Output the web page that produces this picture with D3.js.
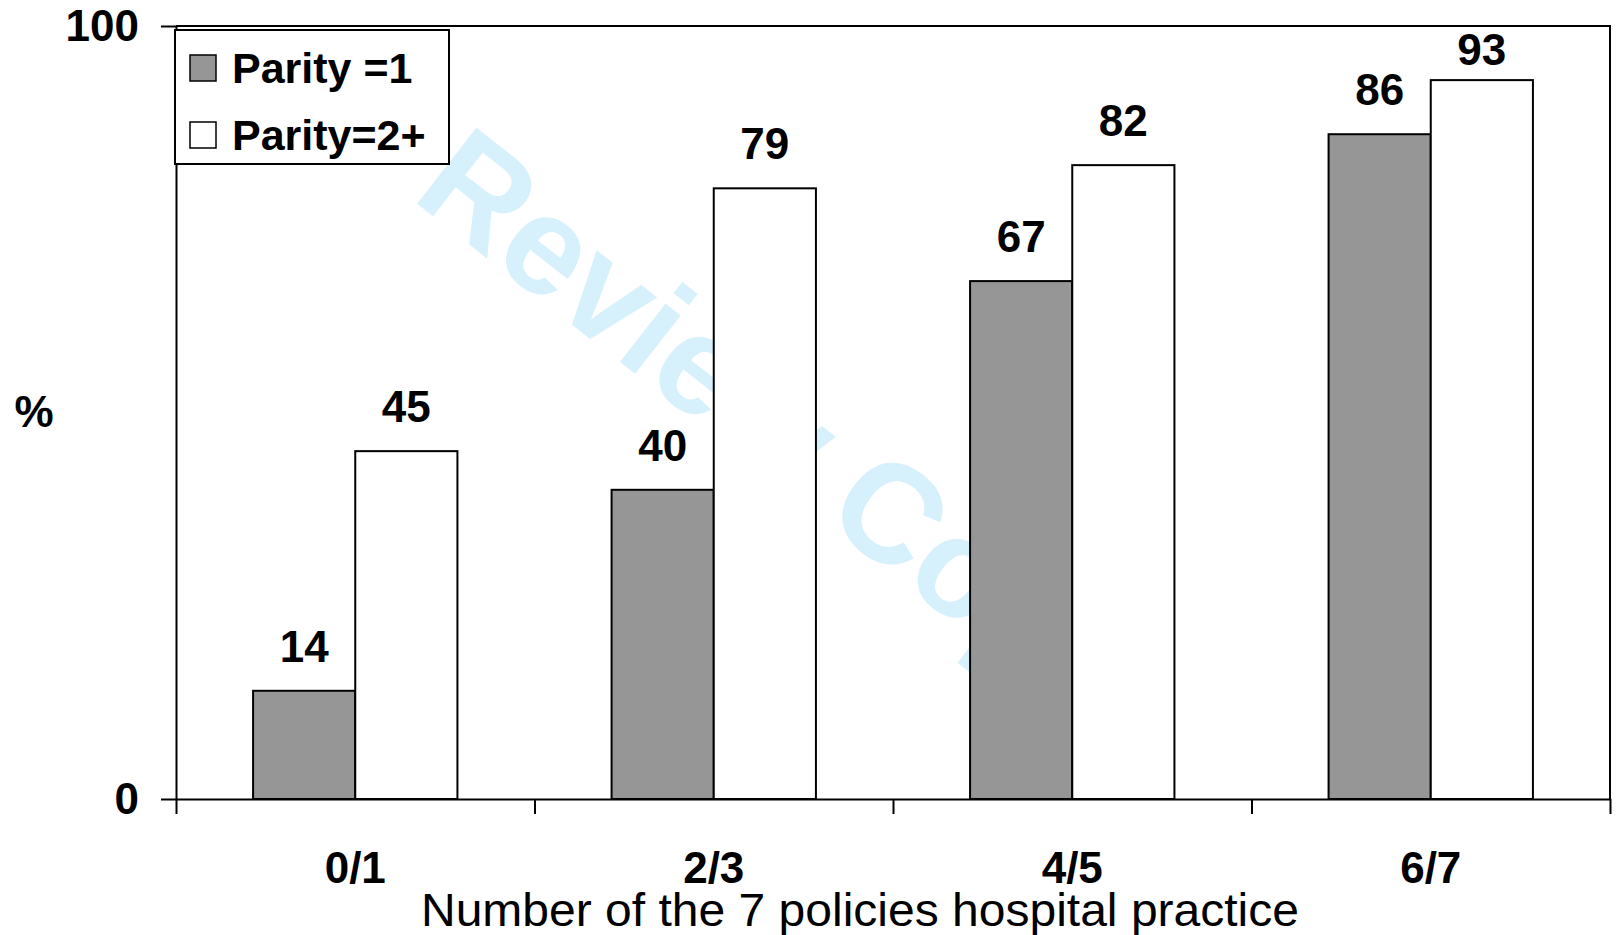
<!DOCTYPE html>
<html>
<head>
<meta charset="utf-8">
<script src="https://cdn.jsdelivr.net/npm/d3@7/dist/d3.min.js"></script>
<style>
  body { margin: 0; background: #fff; }
  svg text { font-family: "Liberation Sans", Arial, sans-serif; fill: #000; }
  .tickText { font-size: 44px; font-weight: bold; }
</style>
</head>
<body>
<div id="chart"></div>
<script>
// data
const categories = ["0/1", "2/3", "4/5", "6/7"];
const seriesNames = ["Parity =1", "Parity=2+"];
const parity1 = [14, 40, 67, 86];
const parity2 = [45, 79, 82, 93];
const yTicks = [0, 100];

const W = 1616, H = 935;
const margin = {top: 26, right: 6, bottom: 136, left: 176},
    width = W - margin.left - margin.right,
    height = H - margin.top - margin.bottom;

const svg = d3.select("#chart")
    .append("svg")
    .attr("width", W)
    .attr("height", H)
    .style("background", "#fff");

// watermark first, so the bars cover it
svg.append("text")
    .attr("transform", "translate(783,428) rotate(38)")
    .attr("text-anchor", "middle")
    .attr("dominant-baseline", "central")
    .style("font-size", "140px")
    .style("font-weight", "bold")
    .style("fill", "#d6f0fc")
    .text("Review Copy");

const g = svg.append("g")
    .attr("transform", `translate(${margin.left},${margin.top})`);

const x = d3.scaleBand()
    .domain(categories)
    .range([0, width]);

const sub = d3.scaleBand()
    .domain(seriesNames)
    .range([x.bandwidth() * 0.215, x.bandwidth() * 0.785]);

const y = d3.scaleLinear()
    .domain([0, 100])
    .range([height, 0]);

// frame: top and right border
g.append("path")
    .attr("d", `M0,0H${width}V${height}`)
    .attr("fill", "none")
    .attr("stroke", "#000")
    .attr("stroke-width", 2);

const rows = categories.map((c, i) => ({cat: c, vals: [parity1[i], parity2[i]]}));
const fills = ["#969696", "#ffffff"];

const groups = g.selectAll(".grp")
    .data(rows)
    .join("g")
    .attr("class", "grp")
    .attr("transform", d => `translate(${x(d.cat)},0)`);

groups.selectAll("rect")
    .data(d => d.vals.map((v, j) => ({name: seriesNames[j], v: v, j: j})))
    .join("rect")
    .attr("x", d => sub(d.name))
    .attr("y", d => y(d.v))
    .attr("width", sub.bandwidth())
    .attr("height", d => height - y(d.v))
    .attr("fill", d => fills[d.j])
    .attr("stroke", "#000")
    .attr("stroke-width", 2);

groups.selectAll(".val")
    .data(d => d.vals.map((v, j) => ({name: seriesNames[j], v: v})))
    .join("text")
    .attr("class", "val tickText")
    .attr("text-anchor", "middle")
    .attr("x", d => sub(d.name) + sub.bandwidth() / 2)
    .attr("y", d => Math.max(y(d.v) - 29, 39))
    .text(d => d.v);

// y axis
const yAxis = g.append("g")
    .call(d3.axisLeft(y).tickValues(yTicks).tickSize(15).tickSizeOuter(0).tickPadding(22));
yAxis.select(".domain").attr("stroke-width", 2);
yAxis.selectAll(".tick line").attr("stroke-width", 2);
yAxis.selectAll(".tick text").attr("class", "tickText").attr("font-size", null).attr("font-family", null);

// x axis: marks at category boundaries, labels at centres
const xEdge = d3.scaleLinear().domain([0, categories.length]).range([0, width]);
const xAxis = g.append("g")
    .attr("transform", `translate(0,${height})`)
    .call(d3.axisBottom(xEdge).ticks(categories.length).tickSize(15).tickSizeOuter(0).tickFormat(""));
xAxis.select(".domain").attr("stroke-width", 2);
xAxis.selectAll(".tick line").attr("stroke-width", 2);

const xLab = g.append("g")
    .attr("transform", `translate(0,${height})`)
    .call(d3.axisBottom(x).tickSize(0).tickPadding(50));
xLab.select(".domain").remove();
xLab.selectAll(".tick text")
    .attr("class", "tickText")
    .attr("font-size", null).attr("font-family", null)
    .attr("dy", null)
    .attr("y", 84);

// axis titles
svg.append("text")
    .attr("x", 860)
    .attr("y", 926)
    .attr("text-anchor", "middle")
    .attr("textLength", 878)
    .attr("lengthAdjust", "spacingAndGlyphs")
    .style("font-size", "46px")
    .text("Number of the 7 policies hospital practice");

svg.append("text")
    .attr("x", 34)
    .attr("y", 427)
    .attr("text-anchor", "middle")
    .attr("class", "tickText")
    .text("%");

// legend
const legend = svg.append("g").attr("transform", "translate(175,30)");
legend.append("rect")
    .attr("width", 274).attr("height", 134)
    .attr("fill", "#fff").attr("stroke", "#000").attr("stroke-width", 2);
const li = legend.selectAll(".li")
    .data(seriesNames)
    .join("g")
    .attr("class", "li")
    .attr("transform", (d, i) => `translate(0,${i * 67})`);
li.append("rect")
    .attr("x", 15).attr("y", 25)
    .attr("width", 26).attr("height", 26)
    .attr("fill", (d, i) => fills[i])
    .attr("stroke", "#000").attr("stroke-width", 1.5);
li.append("text")
    .attr("x", 57).attr("y", 53)
    .style("font-size", "43px").style("font-weight", "bold")
    .text(d => d);
</script>
</body>
</html>
